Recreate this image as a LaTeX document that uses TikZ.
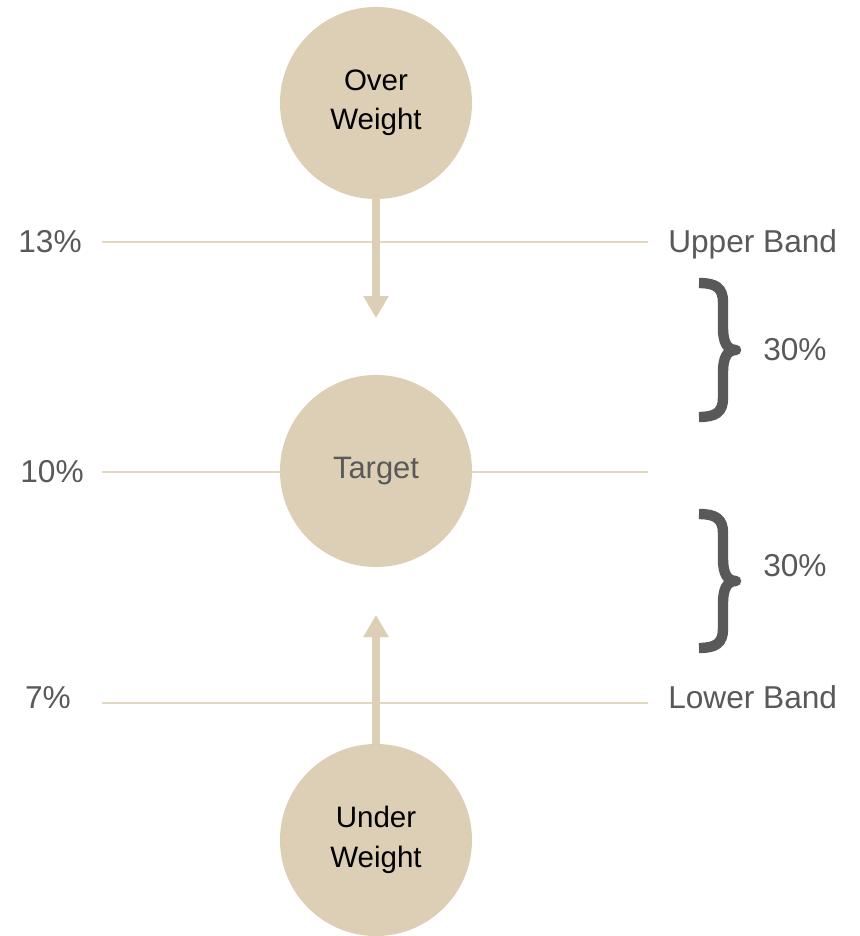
\documentclass[tikz,border=0pt]{standalone}
\usepackage{fontspec}
\setmainfont{Liberation Sans}
\usepackage{xcolor}
\usetikzlibrary{
		arrows.meta,
		positioning
	}
\definecolor{sand}{HTML}{DDCEB6}
\definecolor{sandline}{HTML}{E2D7C4}
\definecolor{darkgrey}{HTML}{595959}
\tikzset{
		>=stealth,
		weight/.style={circle, fill=sand, minimum size=4.8cm, inner sep=0pt, align=center,
			font=\fontsize{21}{28}\selectfont},
		band/.style={draw=sandline, line width=0.05cm},
		move/.style={draw=sand, line width=0.21cm, -{Triangle[width=0.6cm, length=0.55cm]}},
		label/.style={text=darkgrey, font=\fontsize{22.5}{26}\selectfont, inner sep=0pt},
		gap/.style={draw=darkgrey, line width=0.26cm, line cap=butt, line join=round}
	}

\begin{document}
\begin{tikzpicture}[x=0.025cm, y=-0.025cm]
        \useasboundingbox (0,0) rectangle (860,936);

        % the bands (drawn first so the target circle covers them)
        \coordinate (u1) at (102,242);
        \coordinate (u2) at (648,242);
        \coordinate (t1) at (102,472);
        \coordinate (t2) at (648,472);
        \coordinate (l1) at (102,703);
        \coordinate (l2) at (648,703);
        \draw[band] (u1) -- (u2);
        \draw[band] (t1) -- (t2);
        \draw[band] (l1) -- (l2);

        % the weights
        \node[weight] (over) at (376,103) {Over\\Weight};
        \node[weight, text=darkgrey, font=\fontsize{22}{26}\selectfont] (target) at (376,471) {Target};
        \node[weight] (under) at (376,840) {Under\\Weight};

        % the texts
        \node[label] (p13) at (50,242) {13\%};
        \node[label] (p10) at (52,472) {10\%};
        \node[label] (p7) at (48,698) {7\%};
        \node[label, anchor=west] (upper) at (668,244) {Upper Band};
        \node[label, anchor=west] (lower) at (668,697) {Lower Band};

        % the arrows towards the target
        \coordinate (downtip) at (376,318);
        \coordinate (uptip) at (376,615);
        \draw[move] (over) -- (downtip);
        \draw[move] (under) -- (uptip);

        % the braces (one for each 30% gap, y is the height of the tip)
        \foreach \y in {350,581}
            \draw[gap] (699,\y-67) .. controls (716,\y-67) and (723,\y-62) .. (723,\y-48)
                -- (723,\y-22) .. controls (723,\y-8) and (727,\y) .. (736,\y)
                .. controls (727,\y) and (723,\y+8) .. (723,\y+22)
                -- (723,\y+48) .. controls (723,\y+62) and (716,\y+67) .. (699,\y+67);
        \node[label, anchor=west] (gapup) at (763,350) {30\%};
        \node[label, anchor=west] (gapdown) at (763,566) {30\%};

    \end{tikzpicture}
\end{document}
